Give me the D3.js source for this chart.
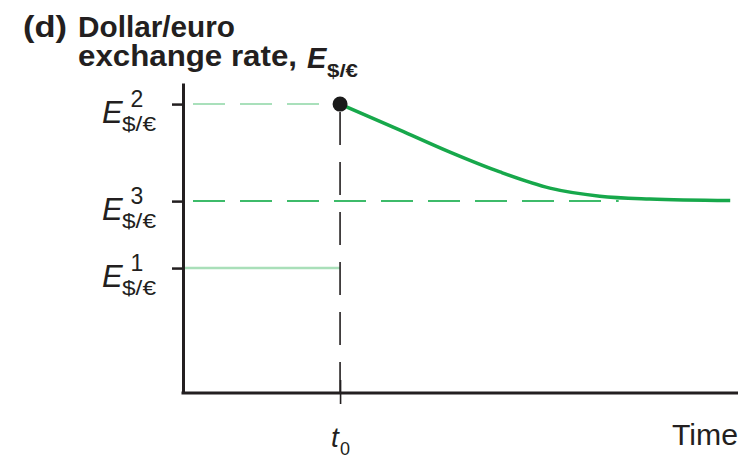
<!DOCTYPE html>
<meta charset="utf-8">
<style>
    body { margin: 0; background: #fff; }
    text { font-family: "Liberation Sans", Arial, sans-serif; fill: #231f20; }
    .title { font-weight: bold; font-size: 29px; }
</style>
<body>
<script src="https://d3js.org/d3.v7.min.js"></script>
<script>
    // levels on the y axis (arbitrary units) and their labels
    var levelNames = ["E2", "E3", "E1"];
    var levelSup = ["2", "3", "1"];
    var levelValues = [93.2, 61.9, 40.3];

    // time of the shock
    var t0 = 28.3;
    var xTickLabel = "t";
    var xTickSub = "0";

    // path of the exchange rate after t0 (time, value)
    var pathTime = [28.3, 39.1, 48.1, 57.1, 66.1, 75.1, 84.1, 98.6];
    var pathValue = [93.2, 84.8, 77.7, 71.3, 66.1, 63.5, 62.6, 62.1];

    // where the E3 guide meets the curve
    var e3GuideEnd = 78.5;

    var width = 743, height = 458;
    var margin = { top: 83, right: 5, bottom: 65, left: 183 };

    var x = d3.scaleLinear().domain([0, 100]).range([margin.left, width - margin.right]);
    var y = d3.scaleLinear().domain([0, 100]).range([height - margin.bottom, margin.top]);

    var svg = d3.select("body").append("svg")
        .attr("width", width)
        .attr("height", height);

    // guide lines
    svg.append("line")
        .attr("x1", x(0)).attr("x2", x(t0))
        .attr("y1", y(levelValues[0])).attr("y2", y(levelValues[0]))
        .attr("stroke", "#a9e0bb").attr("stroke-width", 2)
        .attr("stroke-dasharray", "32,15").attr("stroke-dashoffset", -10);

    svg.append("line")
        .attr("x1", x(0)).attr("x2", x(e3GuideEnd))
        .attr("y1", y(levelValues[1])).attr("y2", y(levelValues[1]))
        .attr("stroke", "#3dbb6a").attr("stroke-width", 2)
        .attr("stroke-dasharray", "32,15").attr("stroke-dashoffset", -10);

    svg.append("line")
        .attr("x1", x(0)).attr("x2", x(t0))
        .attr("y1", y(levelValues[2])).attr("y2", y(levelValues[2]))
        .attr("stroke", "#a9dfb9").attr("stroke-width", 2.5);

    // vertical dashed line at t0
    svg.append("line")
        .attr("x1", x(t0)).attr("x2", x(t0))
        .attr("y1", y(levelValues[0]) + 8).attr("y2", y(0))
        .attr("stroke", "#231f20").attr("stroke-width", 1.6)
        .attr("stroke-dasharray", "33,17");

    // the curve
    var pts = pathTime.map(function (d, i) { return [d, pathValue[i]]; });
    var line = d3.line()
        .x(function (d) { return x(d[0]); })
        .y(function (d) { return y(d[1]); })
        .curve(d3.curveMonotoneX);

    svg.append("path")
        .datum(pts)
        .attr("d", line)
        .attr("fill", "none")
        .attr("stroke", "#17a84b")
        .attr("stroke-width", 3.5);

    svg.append("circle")
        .attr("cx", x(t0)).attr("cy", y(levelValues[0]))
        .attr("r", 7.5)
        .attr("fill", "#1a1a1a");

    // axes
    var yAxis = svg.append("g")
        .attr("transform", "translate(" + margin.left + ",0)")
        .call(d3.axisLeft(y).tickValues(levelValues).tickSize(11).tickSizeOuter(0).tickFormat(""));
    yAxis.select(".domain").attr("stroke", "#231f20").attr("stroke-width", 3);
    yAxis.selectAll(".tick line").attr("stroke", "#231f20").attr("stroke-width", 2.5);

    var xAxis = svg.append("g")
        .attr("transform", "translate(0," + y(0) + ")")
        .call(d3.axisBottom(x).tickValues([t0]).tickSize(11).tickSizeOuter(0).tickFormat(""));
    xAxis.select(".domain").attr("stroke", "#231f20").attr("stroke-width", 3)
        .attr("d", "M" + (x(0) - 1.5) + ",0H" + (width - 5));
    xAxis.selectAll(".tick line").attr("y1", -13).attr("stroke", "#231f20").attr("stroke-width", 1.6);

    // y labels
    levelValues.forEach(function (v, i) {
        var ty = y(v);
        svg.append("text")
            .attr("x", 102).attr("y", ty + 19)
            .style("font-size", "31px").style("font-style", "italic")
            .text("E");
        svg.append("text")
            .attr("x", 137).attr("y", ty + 3)
            .attr("text-anchor", "middle")
            .style("font-size", "23px")
            .text(levelSup[i]);
        svg.append("text")
            .attr("x", 122).attr("y", ty + 27)
            .attr("textLength", 34).attr("lengthAdjust", "spacingAndGlyphs")
            .style("font-size", "21px")
            .text("$/€");
    });

    // x labels
    svg.append("text")
        .attr("x", x(t0) - 9).attr("y", 447)
        .style("font-size", "28px").style("font-style", "italic")
        .text(xTickLabel);
    svg.append("text")
        .attr("x", x(t0)).attr("y", 455)
        .style("font-size", "18px")
        .text(xTickSub);
    svg.append("text")
        .attr("x", 672).attr("y", 445)
        .attr("textLength", 66).attr("lengthAdjust", "spacingAndGlyphs")
        .style("font-size", "29px")
        .text("Time");

    // title
    function titleText(tx, ty, len, s) {
        return svg.append("text").attr("class", "title")
            .attr("x", tx).attr("y", ty)
            .attr("textLength", len).attr("lengthAdjust", "spacingAndGlyphs")
            .text(s);
    }
    titleText(23, 37, 44, "(d)");
    titleText(78, 37, 157, "Dollar/euro");
    titleText(78, 66, 219, "exchange rate,");
    svg.append("text").attr("class", "title").attr("x", 307).attr("y", 68)
        .style("font-style", "italic").text("E");
    titleText(327, 77, 31, "$/€").style("font-size", "19px");
</script>
</body>
